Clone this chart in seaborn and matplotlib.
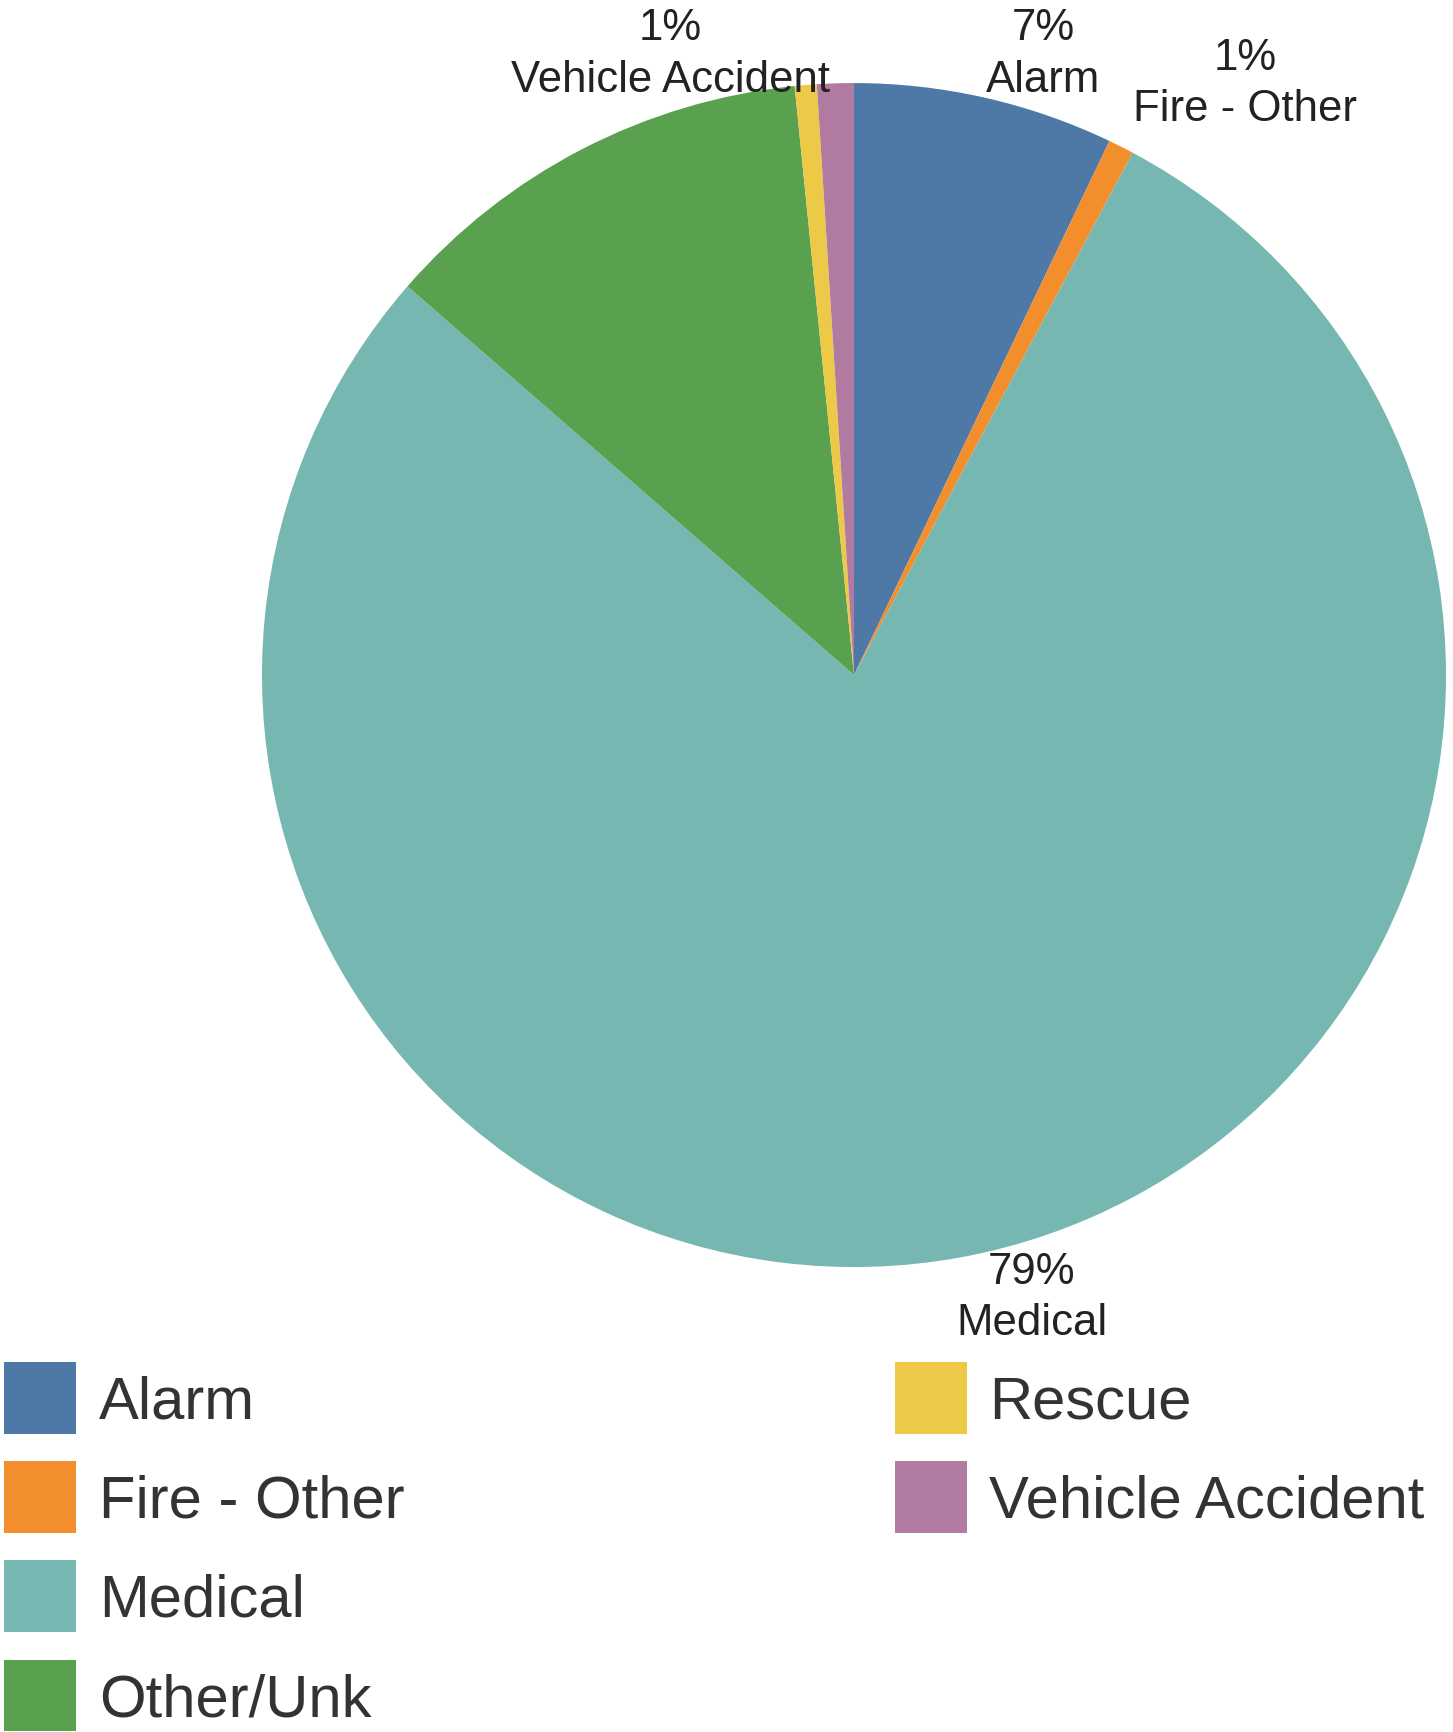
import matplotlib
matplotlib.use("Agg")
import matplotlib.pyplot as plt
import matplotlib.patches as mpatches
import seaborn as sns

# ---------- Data ----------
categories = ["Alarm", "Fire - Other", "Medical", "Other/Unk", "Rescue", "Vehicle Accident"]
shares = [7.1, 0.7, 78.6, 12.0, 0.6, 1.0]
colors = ["#4e79a7", "#f28e2b", "#76b7b2", "#59a14f", "#edc948", "#b07aa1"]

# slices that get a text label, and where the label sits (pie radius = 1)
labeled = ["Alarm", "Fire - Other", "Vehicle Accident", "Medical"]
label_pos = {
    "Alarm": (0.32, 1.05),
    "Fire - Other": (0.66, 1.00),
    "Vehicle Accident": (-0.31, 1.05),
    "Medical": (0.30, -1.05),
}

# ---------- Style ----------
sns.set_theme(style="white")
plt.rcParams["font.family"] = ["Liberation Sans", "DejaVu Sans"]
palette = sns.color_palette(colors)

fig = plt.figure(figsize=(14.53, 17.33), dpi=100)
ax = fig.add_axes([0.1803, 0.2683, 0.8149, 0.6832])

wedges, _ = ax.pie(
    shares,
    colors=palette,
    startangle=90,
    counterclock=False,
    radius=1.0,
    wedgeprops={"linewidth": 0},
)
ax.set_xlim(-1, 1)
ax.set_ylim(-1, 1)
ax.set_aspect("auto")
ax.axis("off")

# ---------- Slice labels ----------
for name in labeled:
    i = categories.index(name)
    x, y = label_pos[name]
    ax.text(x, y, f"{round(shares[i])}%\n{name}", ha="center", va="center",
            fontsize=31.5, color="#222222", linespacing=1.32, clip_on=False)

# ---------- Legend (4 rows in first column, rest in second) ----------
handles = [mpatches.Patch(facecolor=c, edgecolor="none", label=n)
           for n, c in zip(categories, palette)]
leg_kw = dict(
    loc="upper left",
    ncol=1,
    frameon=False,
    fontsize=43,
    handlelength=1.2,
    handleheight=1.47,
    handletextpad=0.38,
    labelspacing=0.46,
    borderpad=0,
    borderaxespad=0,
    labelcolor="#333333",
)
fig.legend(handles=handles[:4], bbox_to_anchor=(0.003, 0.2135), **leg_kw)
fig.legend(handles=handles[4:], bbox_to_anchor=(0.616, 0.2135), **leg_kw)

plt.savefig("out.png", dpi=100)
plt.close()
